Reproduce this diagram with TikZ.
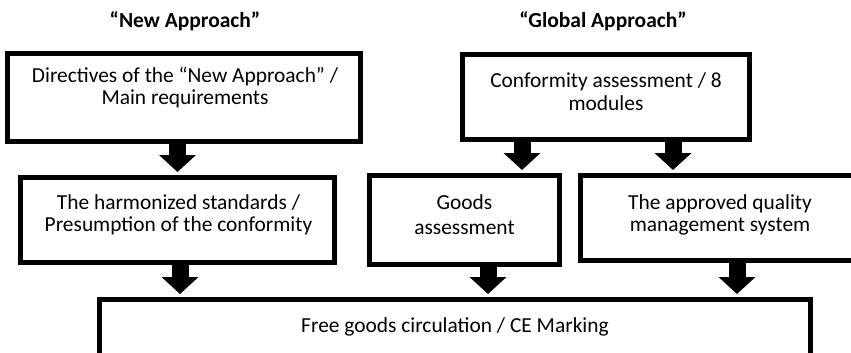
\documentclass[tikz,border=0pt]{standalone}
\usepackage{fontspec}
\setmainfont{Carlito}
\usetikzlibrary{arrows.meta,positioning}
\tikzset{
  kasse/.style={
    rectangle,
    draw=black, line width=5pt,
    inner sep=0pt},
  tekst/.style={
    align=center,
    inner sep=0pt,
    anchor=base,
    font=\fontsize{21.4}{22}\selectfont},
  overskrift/.style={
    anchor=base,
    inner sep=0pt,
    font=\fontsize{21.5}{24}\selectfont\bfseries},
  pil/.style={draw, line width=17pt, shorten >=3pt,
    -{Triangle[width=36pt,length=17pt]}},
}

\begin{document}
\begin{tikzpicture}[x=1pt, y=1pt]
    \useasboundingbox (0,0) rectangle (851,-353);
    \clip (0,0) rectangle (851,-353);

    % the two headings
    \node[overskrift] (newapp) at (185,-28) {“New Approach”};
    \node[overskrift] (globapp) at (603,-28) {“Global Approach”};

    % top row (base anchor sits on the last line)
    \node[kasse, minimum width=353pt, minimum height=88pt] (dir) at (184,-97.5) {};
    \node[tekst] (dirtxt) at (185,-104) {Directives of the “New Approach” /\\Main requirements};
    \node[kasse, minimum width=287pt, minimum height=85pt] (conf) at (606,-97) {};
    \node[tekst] (conftxt) at (606,-110) {Conformity assessment / 8\\[1pt]modules};

    % middle row
    \node[kasse, minimum width=314pt, minimum height=85pt] (harm) at (177.5,-220) {};
    \node[tekst] (harmtxt) at (178.5,-231.5) {The harmonized standards /\\Presumption of the conformity};
    \node[kasse, minimum width=190pt, minimum height=89pt] (goods) at (464.5,-220) {};
    \node[tekst] (goodstxt) at (464.5,-234) {Goods\\[3pt]assessment};
    \node[kasse, minimum width=279pt, minimum height=85pt] (qual) at (720,-218) {};
    \node[tekst] (qualtxt) at (720,-231.5) {The approved quality\\management system};

    % bottom box, runs off the page
    \node[kasse, minimum width=711pt, minimum height=98pt] (free) at (455,-348.5) {};
    \node[tekst] (freetxt) at (455,-332) {Free goods circulation / CE Marking};

    % block arrows
    \draw[pil] (harm.north |- dir.south) -- (harm.north);
    \draw[pil] ([xshift=-84pt]conf.south) -- ([xshift=-84pt]conf.south |- goods.north);
    \draw[pil] ([xshift=67pt]conf.south) -- ([xshift=67pt]conf.south |- qual.north);
    \draw[pil] ([xshift=2.5pt]harm.south) -- ([xshift=2.5pt]harm.south |- free.north);
    \draw[pil] ([xshift=23.5pt]goods.south) -- ([xshift=23.5pt]goods.south |- free.north);
    \draw[pil] ([xshift=17pt]qual.south) -- ([xshift=17pt]qual.south |- free.north);
\end{tikzpicture}
\end{document}
